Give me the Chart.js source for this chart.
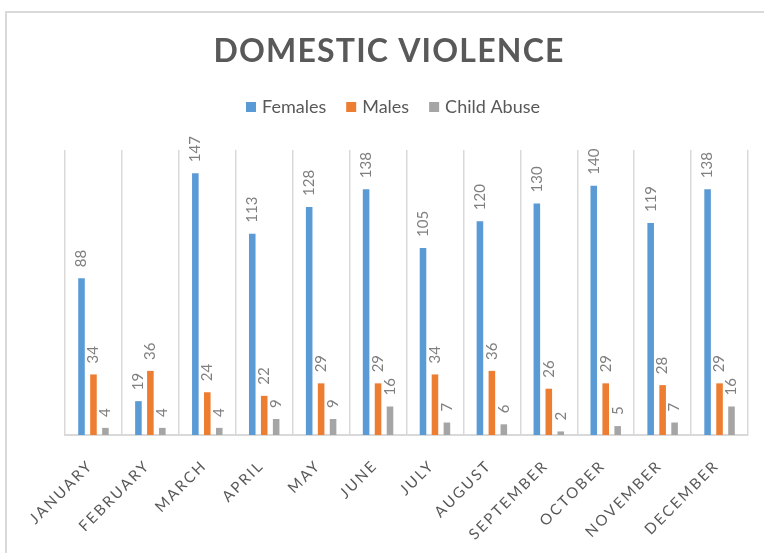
<!DOCTYPE html>
<html>
<head>
<meta charset="utf-8">
<script src="https://cdn.jsdelivr.net/npm/chart.js@4/dist/chart.umd.min.js"></script>
<style>
    html, body { margin: 0; padding: 0; background: #ffffff; }
    #wrap { position: relative; width: 764px; height: 553px; overflow: hidden; }
    #frame { position: absolute; left: 5px; top: 11px; width: 800px; height: 600px; border: 2px solid #d9d9d9; box-sizing: border-box; }
    #chart { position: absolute; left: 0; top: 0; }
</style>
</head>
<body>
<div id="wrap">
    <div id="frame"></div>
    <canvas id="chart" width="764" height="553"></canvas>
</div>
<script>
// dados do gráfico
const meses = ['JANUARY', 'FEBRUARY', 'MARCH', 'APRIL', 'MAY', 'JUNE', 'JULY', 'AUGUST', 'SEPTEMBER', 'OCTOBER', 'NOVEMBER', 'DECEMBER'];
const females = [88, 19, 147, 113, 128, 138, 105, 120, 130, 140, 119, 138];
const males = [34, 36, 24, 22, 29, 29, 34, 36, 26, 29, 28, 29];
const childAbuse = [4, 4, 4, 9, 9, 16, 7, 6, 2, 5, 7, 16];

const titulo = 'DOMESTIC VIOLENCE';
const FONTE = 'Lato, "Open Sans", sans-serif';

// Título + legenda desenhados à mão (Excel style)
const tituloLegenda = {
    id: 'tituloLegenda',
    afterDraw(chart) {
        const ctx = chart.ctx;
        ctx.save();
        ctx.fillStyle = '#595959';
        ctx.font = 'bold 32px ' + FONTE;
        ctx.letterSpacing = '1.2px';
        ctx.textAlign = 'center';
        ctx.textBaseline = 'alphabetic';
        ctx.fillText(titulo, 389, 62);

        // legenda
        ctx.letterSpacing = '0px';
        ctx.font = '18px ' + FONTE;
        ctx.textAlign = 'left';
        const itens = chart.data.datasets.map(ds => ({ texto: ds.label, cor: ds.backgroundColor, w: ctx.measureText(ds.label).width }));
        const box = 10, gapTexto = 6, gapItem = 20;
        let total = 0;
        itens.forEach((it, i) => { total += box + gapTexto + it.w + (i > 0 ? gapItem : 0); });
        let x = 393 - total / 2;
        itens.forEach(it => {
            ctx.fillStyle = it.cor;
            ctx.fillRect(x, 102, box, box);
            ctx.fillStyle = '#595959';
            ctx.fillText(it.texto, x + box + gapTexto, 113);
            x += box + gapTexto + it.w + gapItem;
        });
        ctx.restore();
    }
};

// Rótulos do eixo X (rotacionados, com espaçamento entre letras)
const rotulosX = {
    id: 'rotulosX',
    afterDraw(chart) {
        const ctx = chart.ctx;
        const xScale = chart.scales.x;
        ctx.save();
        ctx.fillStyle = '#595959';
        ctx.font = '15px ' + FONTE;
        ctx.letterSpacing = '2.2px';
        ctx.textAlign = 'right';
        ctx.textBaseline = 'middle';
        chart.data.labels.forEach((lbl, i) => {
            const cx = xScale.getPixelForTick(i);
            ctx.save();
            ctx.translate(cx - 3, xScale.top + 28);
            ctx.rotate(-Math.PI / 4);
            ctx.fillText(lbl, 0, 0);
            ctx.restore();
        });
        ctx.restore();
    }
};

// Valores em cima das barras (vertical)
const valoresBarras = {
    id: 'valoresBarras',
    afterDatasetsDraw(chart) {
        const ctx = chart.ctx;
        ctx.save();
        ctx.fillStyle = '#7f7f7f';
        ctx.font = '15px ' + FONTE;
        ctx.textAlign = 'left';
        ctx.textBaseline = 'middle';
        chart.data.datasets.forEach((ds, di) => {
            const meta = chart.getDatasetMeta(di);
            meta.data.forEach((bar, i) => {
                ctx.save();
                ctx.translate(bar.x, bar.y - 11);
                ctx.rotate(-Math.PI / 2);
                ctx.fillText(String(ds.data[i]), 0, 0);
                ctx.restore();
            });
        });
        ctx.restore();
    }
};

new Chart(document.getElementById('chart'), {
    type: 'bar',
    data: {
        labels: meses,
        datasets: [
            { label: 'Females', data: females, backgroundColor: '#5b9bd5' },
            { label: 'Males', data: males, backgroundColor: '#ed7d31' },
            { label: 'Child Abuse', data: childAbuse, backgroundColor: '#a5a5a5' }
        ]
    },
    options: {
        responsive: false,
        animation: false,
        categoryPercentage: 0.63,
        barPercentage: 0.55,
        layout: { padding: { top: 150, left: 65, right: 16, bottom: 0 } },
        plugins: {
            legend: { display: false },
            title: { display: false },
            tooltip: { enabled: false }
        },
        scales: {
            x: {
                grid: { color: '#d9d9d9', lineWidth: 1.5, drawTicks: false, offset: true },
                border: { color: '#d9d9d9', width: 2 },
                ticks: { display: false },
                afterFit(scale) { scale.height = 118; }
            },
            y: { display: false, min: 0, max: 160 }
        }
    },
    plugins: [tituloLegenda, rotulosX, valoresBarras]
});
</script>
</body>
</html>
